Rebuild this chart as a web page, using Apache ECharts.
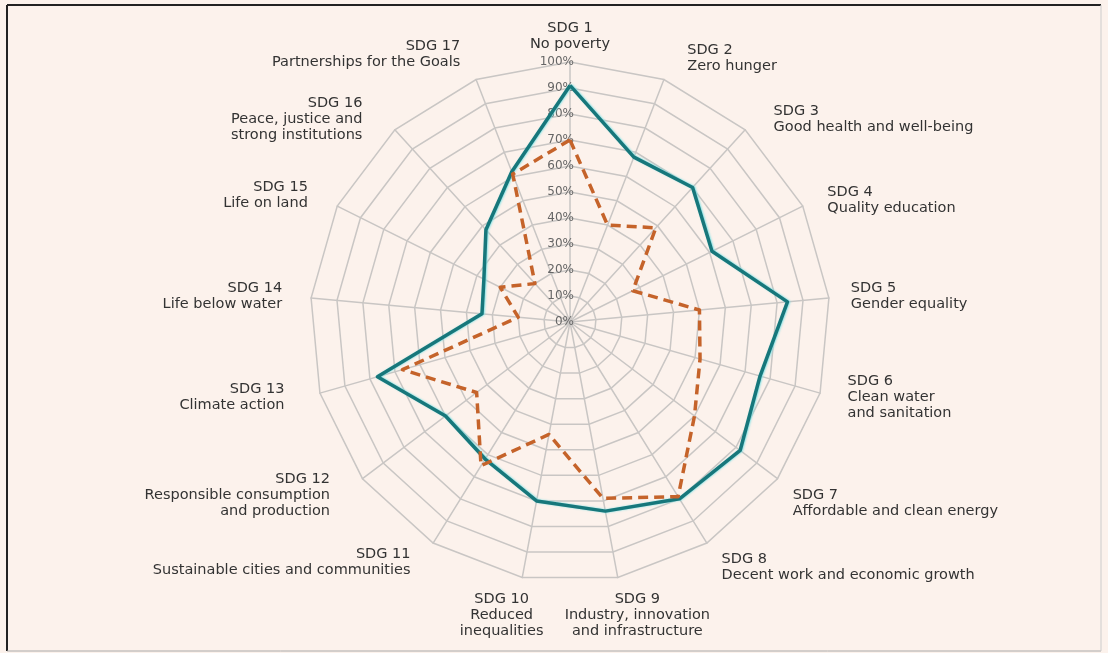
<!DOCTYPE html>
<html>
<head>
<meta charset="utf-8">
<script src="https://cdn.jsdelivr.net/npm/echarts@6/dist/echarts.min.js"></script>
<style>
  html, body { margin: 0; padding: 0; background: #fcf2ec; }
  #chart { width: 1108px; height: 653px; }
</style>
</head>
<body>
<div id="chart"></div>
<script>
// SDG names, clockwise from the top
const goals = [
  'SDG 1\nNo poverty',
  'SDG 2\nZero hunger',
  'SDG 3\nGood health and well-being',
  'SDG 4\nQuality education',
  'SDG 5\nGender equality',
  'SDG 6\nClean water\nand sanitation',
  'SDG 7\nAffordable and clean energy',
  'SDG 8\nDecent work and economic growth',
  'SDG 9\nIndustry, innovation\nand infrastructure',
  'SDG 10\nReduced\ninequalities',
  'SDG 11\nSustainable cities and communities',
  'SDG 12\nResponsible consumption\nand production',
  'SDG 13\nClimate action',
  'SDG 14\nLife below water',
  'SDG 15\nLife on land',
  'SDG 16\nPeace, justice and\nstrong institutions',
  'SDG 17\nPartnerships for the Goals'
];
// teal solid line (%)
const solidValues = [91, 68, 70, 61, 84, 76, 82, 80, 74, 70, 62, 60, 77, 34, 37, 48, 62];
// orange dashed line (%)
const dashedValues = [70, 40, 49, 27, 50, 52, 60, 79, 69, 44, 65, 45, 67, 20, 30, 20, 61];

// hand placement of the goal names: [gap, padding left, padding right, vertical align]
const namePlace = [
  [10, 0, 0, null],
  [23, 15, 0, null],
  [14, 19, 0, null],
  [14, 12, 0, null],
  [14, 8, 0, null],
  [14, 14, 0, null],
  [14, 4, 0, 'top'],
  [28, 0, 0, null],
  [14, 34, 0, 'top'],
  [14, 0, 36, 'top'],
  [22, 0, 11, null],
  [27, 0, 11, null],
  [14, 0, 22, null],
  [14, 0, 15, null],
  [25, 0, 7, null],
  [14, 0, 23, null],
  [27, 0, 6, null]
];

// echarts radar runs counter-clockwise, so feed it SDG1, SDG17, SDG16 ... SDG2
const order = [0];
for (let i = goals.length - 1; i >= 1; i--) order.push(i);

const indicators = order.map(function (i) {
  const p = namePlace[i];
  const ind = {
    name: goals[i],
    min: 0,
    max: 100,
    nameGap: p[0],
    nameTextStyle: { padding: [0, p[2], 0, p[1]] }
  };
  if (p[3]) ind.nameTextStyle.verticalAlign = p[3];
  if (i === 0) ind.axisLabel = { show: true };
  if (i === 8 || i === 9) ind.nameTextStyle.align = 'center';
  return ind;
});

const myChart = echarts.init(document.getElementById('chart'));
myChart.setOption({
  backgroundColor: '#fcf2ec',
  animation: false,
  graphic: [
    { type: 'line', shape: { x1: 7, y1: 5, x2: 1101, y2: 5 }, style: { stroke: '#222', lineWidth: 2 } },
    { type: 'line', shape: { x1: 7, y1: 5, x2: 7, y2: 651 }, style: { stroke: '#222', lineWidth: 2 } },
    { type: 'line', shape: { x1: 7, y1: 651, x2: 1101, y2: 651 }, style: { stroke: '#aaa', lineWidth: 1 } },
    { type: 'line', shape: { x1: 1101, y1: 5, x2: 1101, y2: 651 }, style: { stroke: '#ccc', lineWidth: 1 } }
  ],
  radar: {
    center: [570, 322],
    radius: 260,
    startAngle: 90,
    shape: 'polygon',
    splitNumber: 10,
    indicator: indicators,
    axisName: {
      color: '#333',
      fontFamily: 'DejaVu Sans',
      fontSize: 14.5,
      lineHeight: 16
    },
    axisLine: { lineStyle: { color: '#c9c6c4', width: 1.5 } },
    splitLine: { lineStyle: { color: '#c9c6c4', width: 1.5 } },
    splitArea: { show: false },
    axisTick: { show: false },
    axisLabel: {
      show: false,
      formatter: '{value}%',
      color: '#666',
      fontFamily: 'DejaVu Sans',
      fontSize: 12,
      margin: -4
    }
  },
  series: [
    {
      type: 'radar',
      symbol: 'none',
      data: [
        {
          name: 'Solid',
          value: order.map(function (i) { return solidValues[i]; }),
          lineStyle: { color: '#17777b', width: 3.5, shadowColor: 'rgba(120,225,230,0.9)', shadowBlur: 2, shadowOffsetX: 1 }
        },
        {
          name: 'Dashed',
          value: order.map(function (i) { return dashedValues[i]; }),
          lineStyle: { color: '#c5632a', width: 3.5, type: [10, 6] }
        }
      ]
    }
  ]
});
</script>
</body>
</html>
